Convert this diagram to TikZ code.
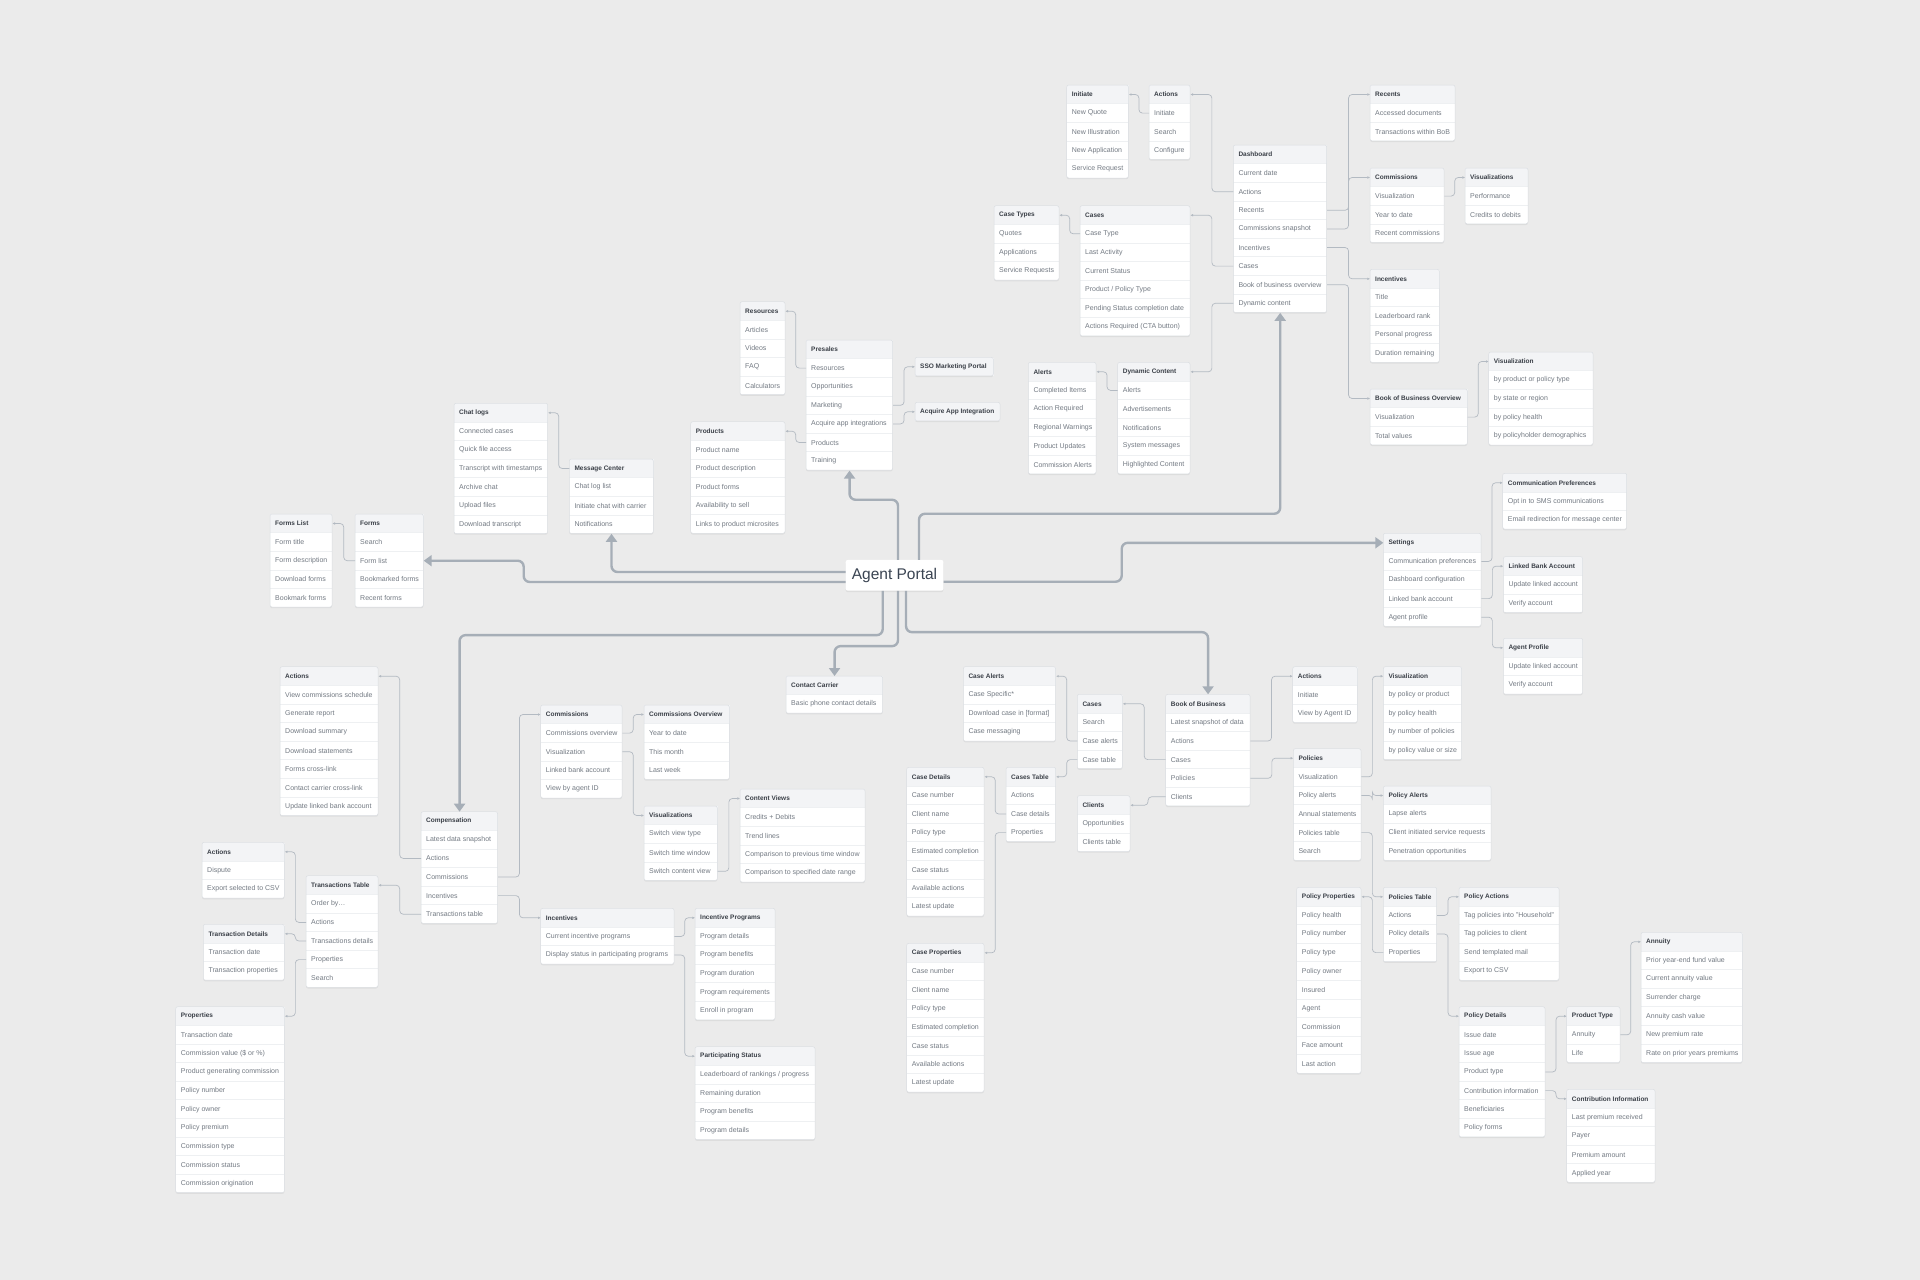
\documentclass[tikz,border=0pt]{standalone}
\usepackage{fontspec}
\setmainfont{Liberation Sans}
\usetikzlibrary{calc}
\usetikzlibrary{arrows.meta}
\usetikzlibrary{shadows}

\definecolor{canvas}{HTML}{EBEBEB}
\definecolor{headfill}{HTML}{F3F4F6}
\definecolor{cardedge}{HTML}{DADDE1}
\definecolor{rowsep}{HTML}{EEF0F2}
\definecolor{headtext}{HTML}{3B4048}
\definecolor{rowtext}{HTML}{737A83}
\definecolor{linkgray}{HTML}{B3BAC2}
\definecolor{maingray}{HTML}{A6AEB7}
\definecolor{portaltext}{HTML}{3A4452}

\tikzset{
  cardbody/.style={fill=white, rounded corners=2pt, drop shadow={opacity=0.12, shadow xshift=0pt, shadow yshift=-1.2pt}},
  cardframe/.style={draw=cardedge, line width=0.5pt, rounded corners=2pt},
  cardsep/.style={draw=rowsep, line width=0.6pt},
  cardhead/.style={fill=headfill, inner xsep=5pt, inner ysep=0pt, minimum height=18.6pt, font=\bfseries\fontsize{6.5}{8}\selectfont, text=headtext},
  cardrow/.style={inner xsep=5pt, inner ysep=0pt, minimum height=18.6pt, font=\fontsize{7}{8}\selectfont, text=rowtext},
  portal/.style={fill=white, rounded corners=2pt, minimum width=97.6pt, minimum height=30.7pt, font=\fontsize{15.5}{18}\selectfont, text=portaltext, drop shadow={opacity=0.12, shadow xshift=0pt, shadow yshift=-1.5pt}},
  elbow/.style={to path={let \p1=(\tikztostart), \p2=(\tikztotarget) in -- ({(\x1+\x2)/2},\y1) -- ({(\x1+\x2)/2},\y2) -- (\tikztotarget)}},
  link/.style={draw=linkgray, line width=0.7pt, rounded corners=3.5pt, -{Latex[length=2.6pt,width=2.6pt]}, elbow},
  main/.style={draw=maingray, line width=2.4pt, rounded corners=6pt, -{Triangle[length=8pt,width=11pt]}}
}

% name, x, y, width, title, rows
\newcommand\card[6]{%
  \foreach \txt [count=\i] in {#6} {\xdef\cardrows{\i}}
  \pgfmathsetmacro\cardh{18.6*(\cardrows+1)}
  \pgfmathsetmacro\cardtw{#4-10}
  \fill[cardbody] (#2,#3) rectangle ++(#4,\cardh);
  \node[cardhead, anchor=north west] (#1) at (#2,#3) {\makebox[\cardtw pt][l]{#5}};
  \foreach \txt [count=\i] in {#6} {
    \node[cardrow, anchor=north west] (#1-\i) at ({#2},{#3+18.6*\i}) {\makebox[\cardtw pt][l]{\txt}};
    \draw[cardsep] (#1-\i.north west) -- (#1-\i.north east);
  }
  \draw[cardframe] (#2,#3) rectangle ++(#4,\cardh);
}
% name, x, y, width, title
\newcommand\tagbox[5]{%
  \pgfmathsetmacro\cardtw{#4-10}
  \fill[cardbody] (#2,#3) rectangle ++(#4,18.6);
  \node[cardhead, anchor=north west] (#1) at (#2,#3) {\makebox[\cardtw pt][l]{#5}};
  \draw[cardframe] (#2,#3) rectangle ++(#4,18.6);
}

\begin{document}
\begin{tikzpicture}[x=1pt,y=-1pt]

\fill[canvas] (0,0) rectangle (1920,1280);
\useasboundingbox (0,0) rectangle (1920,1280);

\node[portal] (portal) at (894.5,575.3) {Agent Portal};

\card{init}{1066.7}{85}{61.7}{Initiate}{New Quote,New Illustration,New Application,Service Request}
\card{dact}{1149}{85}{41}{Actions}{Initiate,Search,Configure}
\card{rec}{1370}{85}{85}{Recents}{Accessed documents,Transactions within BoB}
\card{dash}{1233.3}{145}{93.4}{Dashboard}{Current date,Actions,Recents,Commissions snapshot,Incentives,Cases,Book of business overview,Dynamic content}
\card{dcom}{1370}{168}{74}{Commissions}{Visualization,Year to date,Recent commissions}
\card{dviz}{1465}{168}{63}{Visualizations}{Performance,Credits to debits}
\card{ctyp}{994}{205.7}{65}{Case Types}{Quotes,Applications,Service Requests}
\card{dcas}{1080}{205.7}{110}{Cases}{Case Type,Last Activity,Current Status,Product / Policy Type,Pending Status completion date,Actions Required (CTA button)}
\card{dinc}{1370}{269.3}{69.3}{Incentives}{Title,Leaderboard rank,Personal progress,Duration remaining}
\card{alrt}{1028.3}{362.3}{67.7}{Alerts}{Completed Items,Action Required,Regional Warnings,Product Updates,Commission Alerts}
\card{dyn}{1117.7}{362.3}{72.3}{Dynamic Content}{Alerts,Advertisements,Notifications,System messages,Highlighted Content}
\card{bobo}{1370}{389}{97.3}{Book of Business Overview}{Visualization,Total values}
\card{boviz}{1488.7}{352}{104.3}{Visualization}{by product or policy type,by state or region,by policy health,by policyholder demographics}

\card{res}{740}{301.7}{45}{Resources}{Articles,Videos,FAQ,Calculators}
\card{pres}{806}{340}{86.7}{Presales}{Resources,Opportunities,Marketing,Acquire app integrations,Products,Training}
\tagbox{sso}{915}{357.3}{78.3}{SSO Marketing Portal}
\tagbox{acq}{915}{402.3}{85}{Acquire App Integration}
\card{prod}{690.7}{421.7}{94.3}{Products}{Product name,Product description,Product forms,Availability to sell,Links to product microsites}

\card{chat}{454}{403.3}{93.7}{Chat logs}{Connected cases,Quick file access,Transcript with timestamps,Archive chat,Upload files,Download transcript}
\card{msg}{569.3}{459}{84}{Message Center}{Chat log list,Initiate chat with carrier,Notifications}
\card{flist}{270}{514}{62}{Forms List}{Form title,Form description,Download forms,Bookmark forms}
\card{forms}{355}{514}{68.3}{Forms}{Search,Form list,Bookmarked forms,Recent forms}

\card{cpref}{1502.7}{473.3}{124}{Communication Preferences}{Opt in to SMS communications,Email redirection for message center}
\card{set}{1383.3}{533.3}{97.7}{Settings}{Communication preferences,Dashboard configuration,Linked bank account,Agent profile}
\card{lbank}{1503.3}{556.7}{79.4}{Linked Bank Account}{Update linked account,Verify account}
\card{aprof}{1503.3}{638.3}{79.4}{Agent Profile}{Update linked account,Verify account}

\card{cact}{280}{666.7}{98}{Actions}{View commissions schedule,Generate report,Download summary,Download statements,Forms cross-link,Contact carrier cross-link,Update linked bank account}
\card{contact}{786}{676}{96.7}{Contact Carrier}{Basic phone contact details}
\card{ccom}{540.7}{705}{81.3}{Commissions}{Commissions overview,Visualization,Linked bank account,View by agent ID}
\card{cov}{644}{705}{85.3}{Commissions Overview}{Year to date,This month,Last week}
\card{cviz}{644}{806}{73.3}{Visualizations}{Switch view type,Switch time window,Switch content view}
\card{cview}{740}{789}{125}{Content Views}{Credits + Debits,Trend lines,Comparison to previous time window,Comparison to specified date range}
\card{comp}{421}{811.7}{76.7}{Compensation}{Latest data snapshot,Actions,Commissions,Incentives,Transactions table}
\card{tact}{202}{842.3}{82.3}{Actions}{Dispute,Export selected to CSV}
\card{ttab}{306}{875.7}{72}{Transactions Table}{Order by\ldots,Actions,Transactions details,Properties,Search}
\card{tdet}{203.3}{924.3}{81}{Transaction Details}{Transaction date,Transaction properties}
\card{cinc}{540.7}{908.3}{133.3}{Incentives}{Current incentive programs,Display status in participating programs}
\card{iprog}{695}{908.3}{80}{Incentive Programs}{Program details,Program benefits,Program duration,Program requirements,Enroll in program}
\card{pstat}{695}{1046.7}{120}{Participating Status}{Leaderboard of rankings / progress,Remaining duration,Program benefits,Program details}
\card{tprop}{175.7}{1006.7}{108.6}{Properties}{Transaction date,Commission value (\$ or \%),Product generating commission,Policy number,Policy owner,Policy premium,Commission type,Commission status,Commission origination}

\card{calrt}{963.3}{666.7}{92.4}{Case Alerts}{Case Specific*,Download case in [format],Case messaging}
\card{bcas}{1077.3}{694.3}{45}{Cases}{Search,Case alerts,Case table}
\card{bob}{1165.7}{694.3}{84.3}{Book of Business}{Latest snapshot of data,Actions,Cases,Policies,Clients}
\card{cdet}{906.7}{767.3}{77.3}{Case Details}{Case number,Client name,Policy type,Estimated completion,Case status,Available actions,Latest update}
\card{ctab}{1006}{767.3}{49.7}{Cases Table}{Actions,Case details,Properties}
\card{cli}{1077.3}{795.7}{52.7}{Clients}{Opportunities,Clients table}
\card{cprop}{906.7}{943.3}{77.3}{Case Properties}{Case number,Client name,Policy type,Estimated completion,Case status,Available actions,Latest update}
\card{bact}{1292.7}{666.7}{64.6}{Actions}{Initiate,View by Agent ID}
\card{bviz}{1383.3}{666.7}{78.4}{Visualization}{by policy or product,by policy health,by number of policies,by policy value or size}
\card{pol}{1293.3}{748.7}{67.7}{Policies}{Visualization,Policy alerts,Annual statements,Policies table,Search}
\card{palrt}{1383.3}{786}{107.7}{Policy Alerts}{Lapse alerts,Client initiated service requests,Penetration opportunities}
\card{pprop}{1296.7}{887.3}{64.3}{Policy Properties}{Policy health,Policy number,Policy type,Policy owner,Insured,Agent,Commission,Face amount,Last action}
\card{ptab}{1383.3}{887.3}{53.4}{Policies Table}{Actions,Policy details,Properties}
\card{pact}{1459}{887.3}{100}{Policy Actions}{Tag policies into "Household",Tag policies to client,Send templated mail,Export to CSV}
\card{pdet}{1459}{1006.7}{86}{Policy Details}{Issue date,Issue age,Product type,Contribution information,Beneficiaries,Policy forms}
\card{ptyp}{1566.7}{1006.7}{53.3}{Product Type}{Annuity,Life}
\card{ann}{1641}{932.3}{101.3}{Annuity}{Prior year-end fund value,Current annuity value,Surrender charge,Annuity cash value,New premium rate,Rate on prior years premiums}
\card{cinf}{1566.7}{1089.3}{88.3}{Contribution Information}{Last premium received,Payer,Premium amount,Applied year}

\draw[link] (dash-2.west) to (dact.east);
\draw[link] (dash-3.east) to (rec.west);
\draw[link] (dash-4.east) to (dcom.west);
\draw[link] (dash-5.east) to (dinc.west);
\draw[link] (dash-6.west) to (dcas.east);
\draw[link] (dash-7.east) to (bobo.west);
\draw[link] (dash-8.west) to (dyn.east);
\draw[link] (dact-1.west) to (init.east);
\draw[link] (dcas-1.west) to (ctyp.east);
\draw[link] (dyn-1.west) to (alrt.east);
\draw[link] (dcom-1.east) to (dviz.west);
\draw[link] (bobo-1.east) to (boviz.west);
\draw[link] (pres-1.west) to (res.east);
\draw[link] (pres-3.east) to (sso.west);
\draw[link] (pres-4.east) to (acq.west);
\draw[link] (pres-5.west) to (prod.east);
\draw[link] (msg.west) to (chat.east);
\draw[link] (forms-2.west) to (flist.east);
\draw[link] (set-1.east) to (cpref.west);
\draw[link] (set-3.east) to (lbank.west);
\draw[link] (set-4.east) to (aprof.west);
\draw[link] (comp-2.west) to (cact.east);
\draw[link] (comp-3.east) to (ccom.west);
\draw[link] (comp-4.east) to (cinc.west);
\draw[link] (comp-5.west) to (ttab.east);
\draw[link] (ttab-2.west) to (tact.east);
\draw[link] (ttab-3.west) to (tdet.east);
\draw[link] (ttab-4.west) to (tprop.east);
\draw[link] (ccom-1.east) to (cov.west);
\draw[link] (ccom-2.east) to (cviz.west);
\draw[link] (cviz-3.east) to (cview.west);
\draw[link] (cinc-1.east) to (iprog.west);
\draw[link] (cinc-2.east) to (pstat.west);
\draw[link] (bob-2.east) to (bact.west);
\draw[link] (bob-3.west) to (bcas.east);
\draw[link] (bob-4.east) to (pol.west);
\draw[link] (bob-5.west) to (cli.east);
\draw[link] (bcas-2.west) to (calrt.east);
\draw[link] (bcas-3.west) to (ctab.east);
\draw[link] (ctab-2.west) to (cdet.east);
\draw[link] (ctab-3.west) to (cprop.east);
\draw[link] (pol-1.east) to (bviz.west);
\draw[link] (pol-2.east) to (palrt.west);
\draw[link] (pol-4.east) to (ptab.west);
\draw[link] (ptab-1.east) to (pact.west);
\draw[link] (ptab-2.east) to (pdet.west);
\draw[link] (ptab-3.west) to (pprop.east);
\draw[link] (pdet-3.east) to (ptyp.west);
\draw[link] (pdet-4.east) to (cinf.west);
\draw[link] (ptyp-1.east) to (ann.west);

\draw[main] ([xshift=3.5pt]portal.north) -- ++(0,-60) -| (pres-6.south);
\draw[main] ([xshift=24.5pt]portal.north) -- ++(0,-46) -| (dash-8.south);
\draw[main] ([yshift=3.3pt]portal.west) -| (msg-3.south);
\draw[main] ([yshift=-6.7pt]portal.west) -| ([xshift=100pt]forms-2.east) -- (forms-2.east);
\draw[main] ([yshift=-6.4pt]portal.east) -| ([xshift=-261.6pt]set.west) -- (set.west);
\draw[main] ([xshift=-11.8pt]portal.south) -- ++(0,44.3) -| (comp.north);
\draw[main] ([xshift=3.5pt]portal.south) -- ++(0,55.3) -| (contact.north);
\draw[main] ([xshift=11.5pt]portal.south) -- ++(0,41.3) -| (bob.north);

\end{tikzpicture}
\end{document}
